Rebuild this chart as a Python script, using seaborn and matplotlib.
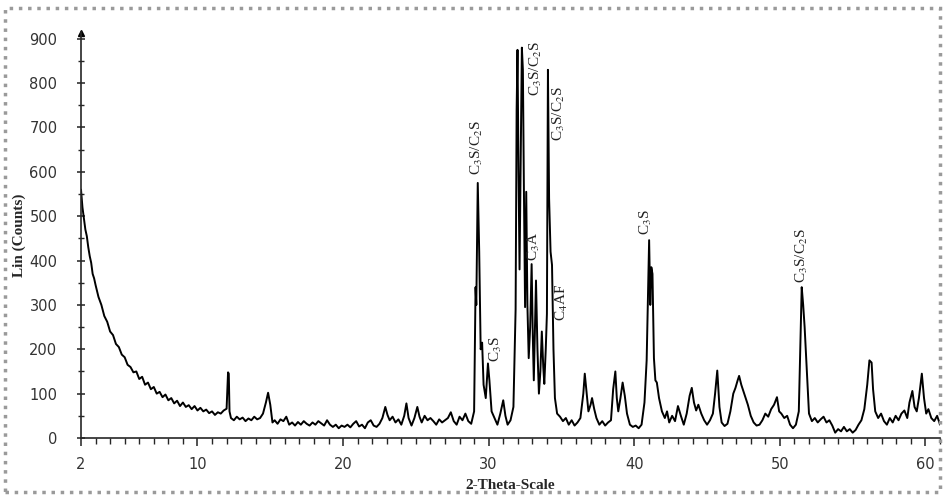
import matplotlib
matplotlib.use('Agg')
import matplotlib.pyplot as plt
from matplotlib.patches import Rectangle
from matplotlib.ticker import MultipleLocator, FixedLocator
import seaborn as sns
import pandas as pd

# diffractogram (2-theta in degrees, counts)
two_theta = [
    2.0, 2.1, 2.2, 2.3, 2.4, 2.5, 2.6, 2.7, 2.8, 2.9, 3.0, 3.2, 3.4, 3.6, 3.8,
    4.0, 4.2, 4.4, 4.6, 4.8, 5.0, 5.2, 5.4, 5.6, 5.8, 6.0, 6.2, 6.4, 6.6, 6.8,
    7.0, 7.2, 7.4, 7.6, 7.8, 8.0, 8.2, 8.4, 8.6, 8.8, 9.0, 9.2, 9.4, 9.6, 9.8,
    10.0, 10.2, 10.4, 10.6, 10.8, 11.0, 11.2, 11.4, 11.6, 11.8, 12.0, 12.1, 12.15, 12.2,
    12.3, 12.5, 12.7, 12.9, 13.1, 13.3, 13.5, 13.7, 13.9, 14.1, 14.3, 14.5, 14.7, 14.85,
    15.0, 15.15, 15.3, 15.5, 15.7, 15.9, 16.1, 16.3, 16.5, 16.7, 16.9, 17.1, 17.3, 17.5,
    17.7, 17.9, 18.1, 18.3, 18.5, 18.7, 18.9, 19.1, 19.3, 19.5, 19.7, 19.9, 20.1, 20.3,
    20.5, 20.7, 20.9, 21.1, 21.3, 21.5, 21.7, 21.9, 22.1, 22.3, 22.5, 22.7, 22.9, 23.05,
    23.2, 23.4, 23.6, 23.8, 24.0, 24.2, 24.35, 24.5, 24.7, 24.9, 25.1, 25.25, 25.4, 25.6,
    25.8, 26.0, 26.2, 26.4, 26.6, 26.8, 27.0, 27.2, 27.4, 27.6, 27.8, 28.0, 28.2, 28.4,
    28.6, 28.8, 29.0, 29.1, 29.15, 29.25, 29.35, 29.45, 29.55, 29.65, 29.8, 29.95, 30.05,
    30.2, 30.4, 30.6, 30.8, 31.0, 31.15, 31.3, 31.5, 31.7, 31.85, 31.92, 31.98, 32.05,
    32.12, 32.2, 32.28, 32.35, 32.42, 32.5, 32.58, 32.66, 32.75, 32.85, 32.95, 33.03,
    33.1, 33.18, 33.25, 33.35, 33.45, 33.55, 33.65, 33.75, 33.82, 33.92, 34.0, 34.07,
    34.15, 34.25, 34.35, 34.45, 34.55, 34.7, 34.9, 35.1, 35.3, 35.5, 35.7, 35.9, 36.1,
    36.3, 36.5, 36.6, 36.7, 36.85, 37.0, 37.1, 37.25, 37.4, 37.6, 37.8, 38.0, 38.2,
    38.4, 38.55, 38.7, 38.8, 38.9, 39.05, 39.2, 39.35, 39.5, 39.7, 39.9, 40.1, 40.3,
    40.5, 40.7, 40.85, 40.95, 41.02, 41.1, 41.17, 41.25, 41.35, 41.45, 41.55, 41.7,
    41.9, 42.1, 42.25, 42.4, 42.6, 42.8, 43.0, 43.2, 43.4, 43.6, 43.8, 43.95, 44.1,
    44.25, 44.4, 44.6, 44.8, 45.0, 45.2, 45.4, 45.55, 45.7, 45.85, 46.0, 46.2, 46.4,
    46.6, 46.8, 46.95, 47.1, 47.2, 47.35, 47.5, 47.65, 47.8, 48.0, 48.2, 48.4, 48.6,
    48.8, 49.0, 49.2, 49.4, 49.6, 49.8, 49.95, 50.1, 50.3, 50.5, 50.7, 50.9, 51.1,
    51.3, 51.4, 51.5, 51.6, 51.7, 51.85, 52.0, 52.2, 52.4, 52.6, 52.8, 53.0, 53.2,
    53.4, 53.6, 53.8, 54.0, 54.2, 54.4, 54.6, 54.8, 55.0, 55.2, 55.4, 55.6, 55.8,
    56.0, 56.15, 56.3, 56.4, 56.55, 56.75, 56.95, 57.15, 57.35, 57.55, 57.75, 57.95, 58.15,
    58.35, 58.55, 58.75, 58.9, 59.1, 59.25, 59.4, 59.55, 59.75, 59.9, 60.05, 60.2, 60.4,
    60.6, 60.8, 61.0,
]
counts = [
    560, 520, 495, 470, 455, 430, 410, 395, 370, 360, 345, 318, 300, 275, 262,
    240, 232, 212, 205, 188, 182, 165, 160, 148, 150, 133, 138, 120, 125, 110,
    115, 100, 104, 92, 98, 85, 90, 78, 84, 72, 80, 70, 74, 65, 72,
    62, 68, 60, 64, 56, 60, 52, 58, 55, 62, 66, 148, 145, 60,
    45, 40, 48, 42, 46, 38, 44, 40, 48, 42, 45, 55, 80, 102,
    75, 35, 40, 32, 42, 38, 48, 30, 35, 28, 36, 30, 38, 32,
    28, 35, 30, 38, 33, 28, 40, 30, 25, 30, 22, 28, 25, 30,
    24, 32, 38, 26, 30, 22, 35, 40, 28, 25, 32, 45, 70, 52,
    40, 48, 35, 42, 30, 50, 78, 45, 28, 45, 70, 48, 35, 50,
    40, 45, 38, 30, 42, 35, 40, 45, 58, 38, 30, 48, 40, 55,
    38, 32, 60, 340, 300, 575, 420, 200, 215, 120, 90, 168, 130,
    60, 45, 30, 55, 85, 50, 30, 40, 70, 290, 740, 875, 600,
    380, 620, 880, 830, 560, 295, 555, 300, 180, 250, 392, 230,
    130, 250, 355, 200, 100, 150, 240, 160, 122, 200, 280, 830,
    540, 420, 390, 200, 90, 55, 48, 38, 45, 30, 40, 28, 35,
    45, 100, 145, 110, 60, 75, 90, 65, 45, 30, 38, 28, 35,
    40, 110, 150, 90, 60, 90, 125, 95, 55, 30, 25, 28, 22,
    30, 80, 175, 330, 446, 300, 385, 370, 180, 130, 125, 90,
    60, 45, 60, 35, 50, 38, 72, 50, 30, 55, 95, 113, 80,
    62, 75, 55, 40, 30, 40, 55, 100, 152, 70, 35, 27, 32,
    60, 100, 113, 130, 140, 120, 105, 90, 75, 50, 35, 28, 30,
    40, 55, 48, 65, 75, 92, 60, 55, 45, 50, 30, 22, 30,
    60, 200, 340, 300, 250, 150, 55, 38, 45, 35, 42, 48, 35,
    40, 28, 12, 20, 15, 25, 15, 20, 12, 18, 30, 40, 65,
    120, 175, 170, 110, 60, 45, 55, 38, 30, 45, 35, 50, 40,
    55, 62, 45, 80, 106, 70, 60, 90, 145, 90, 55, 65, 45,
    38, 50, 30,
]
assert len(two_theta) == len(counts)

# phase labels: text, 2-theta, counts at the foot of the text
phase_names = ['C$_3$S/C$_2$S', 'C$_3$S', 'C$_3$S/C$_2$S', 'C$_3$A',
               'C$_3$S/C$_2$S', 'C$_4$AF', 'C$_3$S', 'C$_3$S/C$_2$S']
phase_pos = [29.2, 30.5, 33.25, 33.1, 34.85, 35.05, 40.8, 51.55]
phase_cnt = [592, 172, 770, 399, 669, 264, 457, 349]

y_ticks = [0, 100, 200, 300, 400, 500, 600, 700, 800, 900]
x_ticks = [2, 10, 20, 30, 40, 50, 60]

df = pd.DataFrame({'two_theta': two_theta, 'counts': counts})

sns.set_style('ticks')
plt.rcParams['font.family'] = ['DejaVu Sans']
plt.rcParams['mathtext.fontset'] = 'stix'

fig = plt.figure(figsize=(9.44, 4.98), dpi=100)
ax = fig.add_axes([0.0858, 0.1205, 0.91, 0.815])

sns.lineplot(data=df, x='two_theta', y='counts', color='black', linewidth=1.4,
             ax=ax, sort=False)

ax.set_xlim(2, 61)
ax.set_ylim(0, 915)
ax.spines['top'].set_visible(False)
ax.spines['right'].set_visible(False)
ax.spines['left'].set_linewidth(1.2)
ax.spines['bottom'].set_linewidth(1.2)

ax.xaxis.set_major_locator(FixedLocator(x_ticks))
ax.xaxis.set_minor_locator(MultipleLocator(1))
ax.yaxis.set_major_locator(FixedLocator(y_ticks))
ax.yaxis.set_minor_locator(MultipleLocator(50))
ax.tick_params(axis='x', which='major', direction='out', length=6, width=1.2,
               pad=8, labelsize=10.5, colors='#333333')
ax.tick_params(axis='x', which='minor', direction='out', length=4, width=1)
ax.tick_params(axis='y', which='major', direction='inout', length=6, width=1.2,
               pad=14, labelsize=10.5, colors='#333333')
ax.tick_params(axis='y', which='minor', direction='inout', length=4, width=1)

# small arrow head at the top of the y axis
ax.plot([2], [912], marker='^', color='black', markersize=4, clip_on=False)

ax.set_xlabel('2-Theta-Scale', family='Liberation Serif', fontweight='bold',
              fontsize=11, labelpad=5)
ax.set_ylabel('Lin (Counts)', family='Liberation Serif', fontweight='bold',
              fontsize=11, labelpad=2)

for name, xp, yp in zip(phase_names, phase_pos, phase_cnt):
    ax.text(xp, yp, name, rotation=90, ha='center', va='bottom',
            family='Liberation Serif', fontsize=11, color='#222222')

fig.patches.append(Rectangle((0.005, 0.012), 0.991, 0.972, transform=fig.transFigure,
                             fill=False, edgecolor='#9a9a9a', linewidth=2.5,
                             linestyle=':'))

plt.savefig('out.png', dpi=100)
